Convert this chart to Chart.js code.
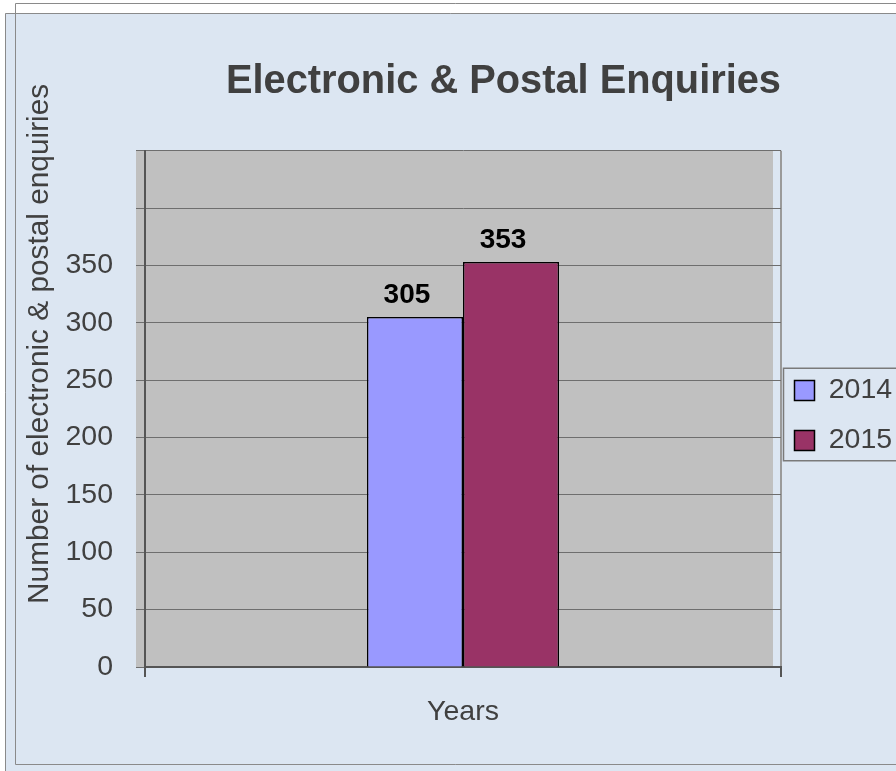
<!DOCTYPE html>
<html>
<head>
<meta charset="utf-8">
<script src="https://cdn.jsdelivr.net/npm/chart.js@4.4.0/dist/chart.umd.min.js"></script>
<style>
  html, body { margin: 0; padding: 0; background: #ffffff; }
  canvas { display: block; }
</style>
</head>
<body>
<canvas id="c" width="896" height="771"></canvas>
<script>
// ---- data ----
const chartTitle = 'Electronic & Postal Enquiries';
const yAxisTitle = 'Number of electronic & postal enquiries';
const xAxisTitle = 'Years';
const categories = [''];
const seriesNames = ['2014', '2015'];
const values2014 = [305];
const values2015 = [353];
const yTickLabels = ['0', '50', '100', '150', '200', '250', '300', '350'];
const yMin = 0;
const yMax = 450;
const yStep = 50;

// ---- styles ----
const FONT = "'Liberation Sans', Arial, Helvetica, sans-serif";
const TEXT = '#404040';
Chart.defaults.font.family = FONT;
Chart.defaults.color = TEXT;

const framePlugin = {
  id: 'frame',
  beforeUpdate(chart) {
    const lg = chart.legend;
    if (lg && !lg._patched) {
      const orig = lg.fit;
      lg.fit = function () { orig.call(this); this.width = 115; };
      lg._patched = true;
    }
  },
  afterLayout(chart) {
    const lg = chart.legend;
    lg.left -= 8;
    lg.top += 30; lg.bottom += 30;
  },
  beforeDraw(chart) {
    const { ctx, chartArea: a, width: W, height: H } = chart;
    ctx.save();
    ctx.fillStyle = '#ffffff';
    ctx.fillRect(0, 0, W, H);
    ctx.fillStyle = '#dce6f2';
    ctx.fillRect(5, 13, W, H);
    ctx.strokeStyle = '#8a8a8a';
    ctx.lineWidth = 1;
    ctx.beginPath();
    ctx.moveTo(5.5, H); ctx.lineTo(5.5, 13.5); ctx.lineTo(W, 13.5);
    ctx.stroke();
    ctx.beginPath();
    ctx.moveTo(W, 3.5); ctx.lineTo(15.5, 3.5); ctx.lineTo(15.5, H - 6.5); ctx.lineTo(W, H - 6.5);
    ctx.stroke();
    ctx.fillStyle = '#c0c0c0';
    ctx.fillRect(a.left - 9, a.top, a.width + 1, a.height);
    ctx.restore();
  },
  afterDatasetsDraw(chart) {
    const { ctx } = chart;
    ctx.save();
    ctx.font = `bold 28px ${FONT}`;
    ctx.fillStyle = '#000000';
    ctx.textAlign = 'center';
    ctx.textBaseline = 'alphabetic';
    chart.data.datasets.forEach((ds, i) => {
      chart.getDatasetMeta(i).data.forEach((bar, j) => {
        ctx.fillText(String(ds.data[j]), bar.x - 8, bar.y - 14);
      });
    });
    ctx.restore();
  },
  afterDraw(chart) {
    const { ctx, chartArea: a, width: W } = chart;
    ctx.save();
    // y axis title
    ctx.translate(a.left - 105, (a.top + a.bottom) / 2 - 65);
    ctx.rotate(-Math.PI / 2);
    ctx.font = `29.8px ${FONT}`;
    ctx.fillStyle = TEXT;
    ctx.textAlign = 'center';
    ctx.textBaseline = 'middle';
    ctx.fillText(yAxisTitle, 0, 0);
    ctx.restore();
    // legend frame
    const hb = chart.legend.legendHitBoxes;
    if (hb && hb.length) {
      const top = hb[0].top - 8;
      const last = hb[hb.length - 1];
      const bottom = last.top + last.height + 6;
      ctx.save();
      ctx.strokeStyle = '#7a7a7a';
      ctx.lineWidth = 1.5;
      ctx.strokeRect(a.right + 2.5, top, W, bottom - top);
      ctx.restore();
    }
  }
};

new Chart(document.getElementById('c'), {
  type: 'bar',
  data: {
    labels: categories,
    datasets: [
      { label: seriesNames[0], data: values2014, backgroundColor: '#9999ff', borderColor: '#000000', borderWidth: 1.5 },
      { label: seriesNames[1], data: values2015, backgroundColor: '#993366', borderColor: '#000000', borderWidth: 1.5 }
    ]
  },
  options: {
    responsive: false,
    animation: false,
    devicePixelRatio: 1,
    layout: { padding: 0 },
    datasets: { bar: { categoryPercentage: 0.302, barPercentage: 1.0 } },
    plugins: {
      title: {
        display: true,
        text: chartTitle,
        fullSize: false,
        align: 'end',
        color: TEXT,
        font: { size: 39.8, weight: 'bold', lineHeight: 1.2 },
        padding: { top: 58, bottom: 45 }
      },
      legend: {
        position: 'right',
        align: 'center',
        labels: {
          boxWidth: 20,
          boxHeight: 20,
          padding: 21.5,
          color: TEXT,
          font: { size: 28.5 }
        }
      },
      tooltip: { enabled: false }
    },
    scales: {
      x: {
        offset: true,
        afterFit(s) { s.height = 104; },
        ticks: { display: false },
        grid: { offset: true, color: '#9a9a9a', lineWidth: 2, tickLength: 10, tickColor: '#555555', drawTicks: true },
        border: { display: true, color: '#555555', width: 2 },
        title: { display: true, text: xAxisTitle, color: TEXT, font: { size: 28.5 }, padding: { top: 0, bottom: 42 } }
      },
      y: {
        min: yMin,
        max: yMax,
        afterFit(s) { s.width = 145; },
        ticks: {
          stepSize: yStep,
          padding: 23,
          color: TEXT,
          font: { size: 28.5 },
          callback: (v) => (yTickLabels.includes(String(v)) ? String(v) : '')
        },
        grid: { color: '#6e6e6e', lineWidth: 1, tickLength: 9, drawTicks: true },
        border: { display: true, color: '#555555', width: 2 }
      }
    }
  },
  plugins: [framePlugin]
});
</script>
</body>
</html>
